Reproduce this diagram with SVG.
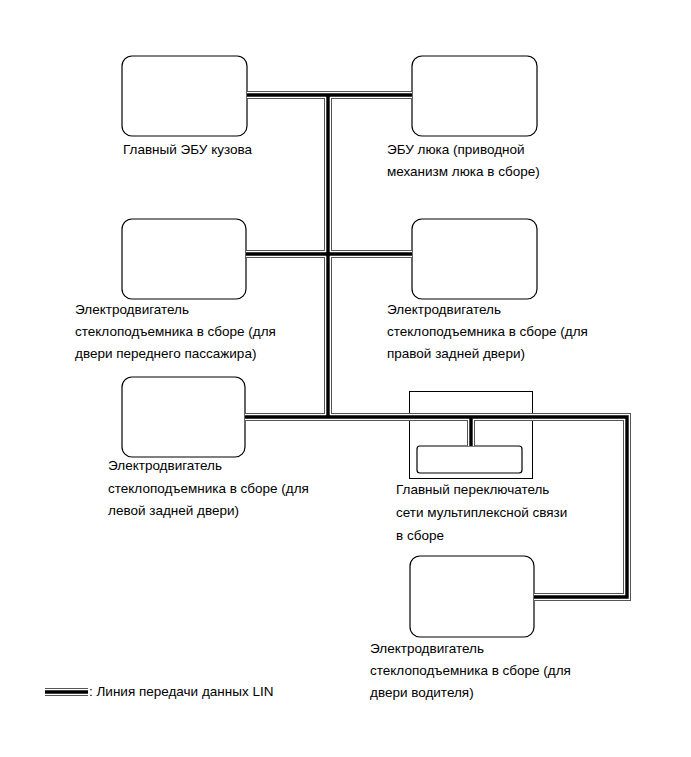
<svg xmlns="http://www.w3.org/2000/svg" width="691" height="757" viewBox="0 0 691 757">
<style>
.box{fill:#fff;stroke:#000;stroke-width:1.2}
.sw{fill:none;stroke:#000;stroke-width:1}
.t{font-family:"Liberation Sans",Arial,sans-serif;font-size:13.5px;fill:#000}
.l1{fill:none;stroke:#555;stroke-width:8;stroke-linejoin:miter;stroke-linecap:butt}
.l2{fill:none;stroke:#fff;stroke-width:6;stroke-linejoin:miter;stroke-linecap:butt}
.l3{fill:none;stroke:#000;stroke-width:3.4;stroke-linejoin:miter;stroke-linecap:butt}
</style>
<defs>
<path id="bus" d="M247 95H412M328 95V417M246 254H412M245 417H627V597H534M471 417V446"/>
<path id="leg" d="M45 692H88"/>
</defs>
<rect width="691" height="757" fill="#fff"/>
<g id="body-ecu">
<rect class="box" x="122" y="56" width="125" height="80" rx="10"/>
<text class="t" x="123" y="154">Главный ЭБУ кузова</text>
</g>
<g id="sunroof-ecu">
<rect class="box" x="412" y="56" width="125" height="80" rx="10"/>
<text class="t" x="387" y="154">ЭБУ люка (приводной</text>
<text class="t" x="387" y="176">механизм люка в сборе)</text>
</g>
<g id="front-pass-motor">
<rect class="box" x="122" y="219" width="124" height="80" rx="10"/>
<text class="t" x="75" y="314">Электродвигатель</text>
<text class="t" x="75" y="336">стеклоподъемника в сборе (для</text>
<text class="t" x="75" y="358">двери переднего пассажира)</text>
</g>
<g id="rear-right-motor">
<rect class="box" x="412" y="219" width="125" height="80" rx="10"/>
<text class="t" x="387" y="314">Электродвигатель</text>
<text class="t" x="387" y="336">стеклоподъемника в сборе (для</text>
<text class="t" x="387" y="358">правой задней двери)</text>
</g>
<g id="rear-left-motor">
<rect class="box" x="122" y="377" width="123" height="80" rx="10"/>
<text class="t" x="108" y="470">Электродвигатель</text>
<text class="t" x="108" y="493">стеклоподъемника в сборе (для</text>
<text class="t" x="108" y="515">левой задней двери)</text>
</g>
<g id="master-switch">
<rect class="sw" x="409.5" y="391.5" width="123" height="87"/>
<rect class="box" x="417" y="446" width="105" height="27" rx="3"/>
<text class="t" x="396" y="494">Главный переключатель</text>
<text class="t" x="396" y="517">сети мультиплексной связи</text>
<text class="t" x="396" y="540">в сборе</text>
</g>
<g id="driver-motor">
<rect class="box" x="410" y="556" width="124" height="81" rx="10"/>
<text class="t" x="370" y="653">Электродвигатель</text>
<text class="t" x="370" y="675">стеклоподъемника в сборе (для</text>
<text class="t" x="370" y="697">двери водителя)</text>
</g>
<g id="connectors">
<use href="#bus" class="l1"/>
<use href="#bus" class="l2"/>
<use href="#bus" class="l3"/>
</g>
<g id="legend">
<use href="#leg" class="l1"/>
<use href="#leg" class="l2"/>
<use href="#leg" class="l3"/>
<text class="t" x="89" y="696">: Линия передачи данных LIN</text>
</g>
</svg>
